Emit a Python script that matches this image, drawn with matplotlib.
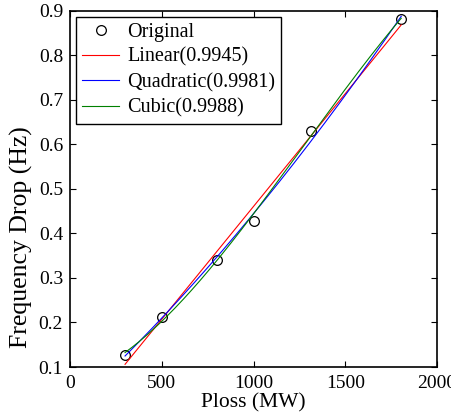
import numpy as np
import matplotlib.pyplot as plt

plt.rcParams['font.family'] = ['Liberation Serif', 'DejaVu Serif']

# measured points
ploss = np.array([300, 500, 800, 1000, 1315, 1805])
freq_drop = np.array([0.127, 0.213, 0.341, 0.428, 0.630, 0.881])

fit_labels = ['Linear(0.9945)', 'Quadratic(0.9981)', 'Cubic(0.9988)']
fit_orders = [1, 2, 3]
fit_colors = ['red', 'blue', 'green']

fig = plt.figure(figsize=(4.51, 4.18), dpi=100)
ax = fig.add_axes([70 / 451, 1 - 367 / 418, 367 / 451, 356.5 / 418])

ax.plot(ploss, freq_drop, 'o', mfc='none', mec='black', ms=7, mew=0.9, label='Original')

xs = np.linspace(ploss.min(), ploss.max(), 200)
for order, lab, col in zip(fit_orders, fit_labels, fit_colors):
    coef = np.polyfit(ploss, freq_drop, order)
    ax.plot(xs, np.polyval(coef, xs), color=col, lw=0.8, label=lab)

ax.set_xlim(0, 2000)
ax.set_ylim(0.1, 0.9)
ax.set_xticks([0, 500, 1000, 1500, 2000])
ax.set_yticks(np.arange(0.1, 0.91, 0.1))
ax.yaxis.set_major_formatter(plt.FormatStrFormatter('%g'))
ax.tick_params(direction='in', top=True, right=True, labelsize=14, length=4, width=0.8)
ax.tick_params(axis='y', pad=5)
ax.tick_params(axis='x', pad=6)
for s in ax.spines.values():
    s.set_linewidth(1.2)

ax.set_xlabel('Ploss (MW)', fontsize=15.5, labelpad=0.5)
ax.set_ylabel('Frequency Drop (Hz)', fontsize=18.5)
ax.yaxis.set_label_coords(-0.101, 0.365)

leg = ax.legend(loc='upper left', fontsize=14.5, handlelength=1.85, handletextpad=0.4,
                labelspacing=0.3, borderpad=0.3, borderaxespad=0.3, fancybox=False,
                framealpha=1, edgecolor='black')
leg.get_frame().set_linewidth(1.0)

fig.savefig('out.png', dpi=100)
